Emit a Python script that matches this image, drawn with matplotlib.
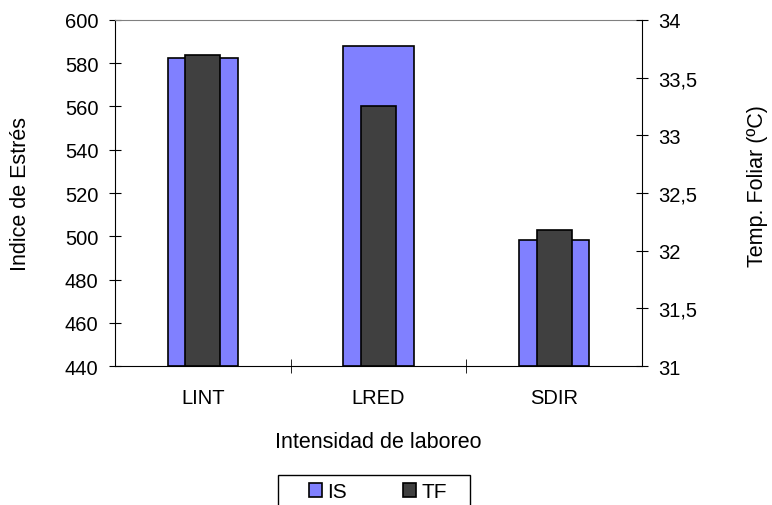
import matplotlib.pyplot as plt
from matplotlib.patches import Rectangle
import numpy as np

plt.rcParams['font.family'] = ['Liberation Sans', 'DejaVu Sans']
plt.rcParams['font.size'] = 14.5

categories = ['LINT', 'LRED', 'SDIR']
is_vals = [582.4, 588.0, 498.4]     # Indice de Estrés
tf_vals = [33.70, 33.25, 32.18]     # Temp. Foliar (ºC)

x = np.arange(len(categories))

fig = plt.figure(figsize=(7.72, 5.06), dpi=100)
ax = fig.add_axes([0.149, 0.2747, 0.6826, 0.6838])
ax.bar(x, [v - 440 for v in is_vals], bottom=440, width=0.4,
       color='#8080ff', edgecolor='black', linewidth=1.2, label='IS')
ax.set_ylim(440, 600)
ax.set_xlim(-0.5, 2.5)
ax.set_yticks(range(440, 601, 20))
ax.set_xticks(x)
ax.set_xticklabels(categories)
ax.tick_params(axis='x', length=0, pad=16)
ax.set_xticks([0.5, 1.5], minor=True)
ax.tick_params(axis='x', which='minor', direction='inout', length=10)
ax.tick_params(axis='y', direction='inout', length=8, pad=8)
ax.set_ylabel('Indice de Estrés', va='center', fontsize=15.5)
ax.yaxis.set_label_coords(-0.180, 0.5)
ax.set_xlabel('Intensidad de laboreo', va='center', fontsize=15.5)
ax.xaxis.set_label_coords(0.499, -0.217)
ax.spines['top'].set_color('#808080')
ax.spines['right'].set_visible(False)

ax2 = ax.twinx()
ax2.bar(x, [v - 31 for v in tf_vals], bottom=31, width=0.2,
        color='#404040', edgecolor='black', linewidth=1.2, label='TF')
ax2.set_ylim(31, 34)
ax2.set_yticks([31, 31.5, 32, 32.5, 33, 33.5, 34])
ax2.set_yticklabels(['31', '31,5', '32', '32,5', '33', '33,5', '34'])
ax2.tick_params(axis='y', direction='inout', length=8, pad=8)
ax2.set_ylabel('Temp. Foliar (ºC)', va='center', rotation=90, fontsize=15.5)
ax2.yaxis.set_label_coords(1.220, 0.523)
ax2.spines['top'].set_visible(False)
ax2.spines['left'].set_visible(False)
ax2.spines['bottom'].set_visible(False)

# legend box, cut off by the bottom edge as in the original
fig.patches.append(Rectangle((278 / 772, -0.05), 192 / 772, 0.05 + 30 / 506,
                             transform=fig.transFigure, fill=False,
                             edgecolor='black', linewidth=1.0))
h1, l1 = ax.get_legend_handles_labels()
h2, l2 = ax2.get_legend_handles_labels()
fig.legend(h1 + h2, l1 + l2, ncol=2, loc='center left', fontsize=15,
           bbox_to_anchor=(309 / 772, 1 - 493 / 506), frameon=False,
           handlelength=0.63, handleheight=0.63, handletextpad=0.25,
           columnspacing=2.7, borderpad=0, borderaxespad=0)

fig.savefig('out.png', dpi=100)
